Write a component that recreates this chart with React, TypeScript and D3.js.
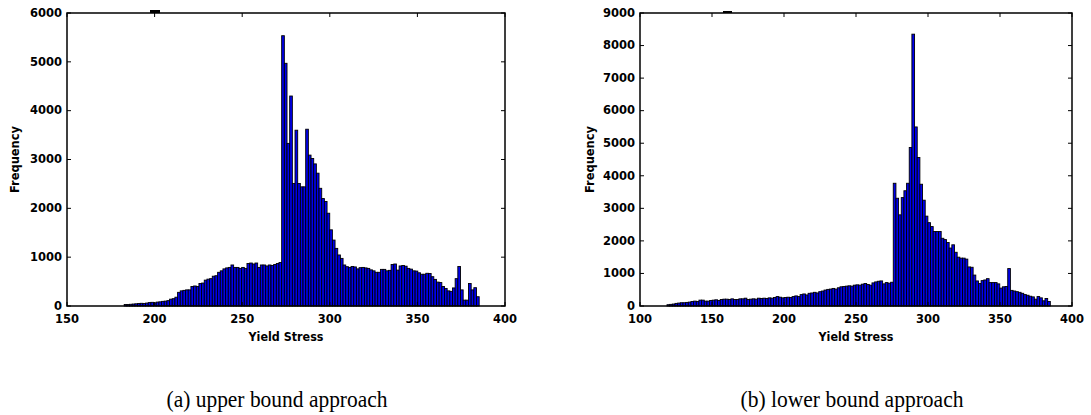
import React from 'react';
import * as d3 from 'd3';

// histogram counts per bin
const upperCounts = [
  30, 30, 35, 40, 45, 50, 55, 50, 60, 70,
  75, 65, 80, 85, 95, 100, 110, 140, 150, 180,
  280, 310, 320, 330, 330, 400, 410, 400, 460, 470,
  530, 550, 560, 610, 620, 690, 720, 760, 780, 790,
  840, 790, 790, 770, 790, 770, 870, 880, 860, 880,
  790, 840, 840, 820, 840, 830, 850, 870, 890,
  5535, 4970, 3330, 4300, 2510, 3600, 2510, 2440, 2440, 3620, 3090,
  3020, 2910, 2720, 2410, 2200, 2140, 1900, 1560, 1350, 1180,
  1045, 975, 840, 805, 790, 810, 800, 760, 785, 790,
  780, 770, 740, 720, 690, 690, 750, 750, 720, 730,
  850, 860, 735, 820, 830, 815, 770, 755, 720, 715,
  680, 650, 650, 670, 665, 600, 545, 490, 480, 400,
  360, 310, 300, 370, 560, 810, 330, 120, 120, 460,
  330, 375, 190,
];

const lowerCounts = [
  40, 50, 60, 80, 90, 100, 100, 110, 120, 140,
  150, 140, 180, 180, 150, 150, 170, 180, 190, 170,
  200, 210, 210, 200, 220, 200, 200, 220, 220, 240,
  200, 210, 220, 210, 240, 230, 240, 230, 250, 240,
  260, 290, 270, 250, 260, 270, 260, 290, 310, 290,
  350, 370, 340, 390, 400, 420, 400, 440, 460, 490,
  510, 520, 540, 520, 560, 590, 600, 610, 620, 610,
  640, 650, 640, 670, 690, 660, 640, 710, 740, 760,
  770, 680, 720, 700, 730,
  3770, 3310, 2800, 3330, 3540,
  3770, 4870, 8350, 5500, 4560, 3740, 3250, 2760, 2560, 2440,
  2290, 2290, 2290, 2080, 2040, 1950, 1780, 1880, 1650, 1500,
  1470, 1470, 1440, 1200, 1190, 950, 770, 690, 780, 800,
  840, 720, 720, 720, 680, 550, 590, 600, 1150, 480,
  460, 440, 420, 390, 350, 330, 300, 280, 210, 290,
  250, 160, 230, 140,
];

// bin edges (yield stress units)
const upperBinStart = 182.65;
const upperBinWidth = 1.5234;
const lowerBinStart = 118.75;
const lowerBinWidth = 1.8486;

const upperXTicks = [150, 200, 250, 300, 350, 400];
const upperYTicks = [0, 1000, 2000, 3000, 4000, 5000, 6000];
const lowerXTicks = [100, 150, 200, 250, 300, 350, 400];
const lowerYTicks = [0, 1000, 2000, 3000, 4000, 5000, 6000, 7000, 8000, 9000];

const xLabel = 'Yield Stress';
const yLabel = 'Frequency';
const captions = ['(a) upper bound approach', '(b) lower bound approach'];

const tickFont = { fontFamily: '"DejaVu Sans", sans-serif', fontWeight: 700, fontSize: 11.5 };

type HistProps = {
  counts: number[];
  binStart: number;
  binWidth: number;
  xTicks: number[];
  yTicks: number[];
  left: number;
  right: number;
  ylabelX: number;
};

function Hist({ counts, binStart, binWidth, xTicks, yTicks, left, right, ylabelX }: HistProps) {
  const top = 13;
  const bottom = 306;
  const x = d3.scaleLinear().domain([xTicks[0], xTicks[xTicks.length - 1]]).range([left, right]);
  const y = d3.scaleLinear().domain([0, yTicks[yTicks.length - 1]]).range([bottom, top]);
  const tl = 4;

  return (
    <g>
      {counts.map((c, i) => {
        const x0 = binStart + i * binWidth;
        return (
          <rect
            key={i}
            x={x(x0)}
            y={y(c)}
            width={x(x0 + binWidth) - x(x0)}
            height={y(0) - y(c)}
            fill="#0000ee"
            stroke="#000"
            strokeWidth={0.9}
          />
        );
      })}
      <rect x={left} y={top} width={right - left} height={bottom - top} fill="none" stroke="#000" strokeWidth={1.5} />
      {xTicks.map((t) => (
        <g key={'x' + t}>
          <line x1={x(t)} x2={x(t)} y1={bottom} y2={bottom - tl} stroke="#000" />
          <line x1={x(t)} x2={x(t)} y1={top} y2={top + tl} stroke="#000" />
          <text x={x(t)} y={bottom + 17} textAnchor="middle" style={tickFont}>{t}</text>
        </g>
      ))}
      {yTicks.map((t) => (
        <g key={'y' + t}>
          <line x1={left} x2={left + tl} y1={y(t)} y2={y(t)} stroke="#000" />
          <line x1={right} x2={right - tl} y1={y(t)} y2={y(t)} stroke="#000" />
          <text x={left - 5} y={y(t) + 3.8} textAnchor="end" style={tickFont}>{t}</text>
        </g>
      ))}
      <text x={(left + right) / 2} y={341} textAnchor="middle" textLength={75} lengthAdjust="spacingAndGlyphs"
        style={{ ...tickFont, fontSize: 12.5 }}>{xLabel}</text>
      <text
        transform={`translate(${ylabelX},${(top + bottom) / 2}) rotate(-90)`}
        textAnchor="middle"
        textLength={67}
        lengthAdjust="spacingAndGlyphs"
        style={{ ...tickFont, fontSize: 12 }}
      >
        {yLabel}
      </text>
    </g>
  );
}

export default function App() {
  const captionStyle = { fontFamily: '"Liberation Serif", serif', fontSize: 23 };
  return (
    <svg
      width={1091}
      height={415}
      style={{ position: 'absolute', left: 0, top: 0, background: '#fff' }}
    >
      <rect x={150} y={10} width={10} height={3} fill="#000" />
      <rect x={723} y={11} width={9} height={2} fill="#000" />
      <Hist
        counts={upperCounts}
        binStart={upperBinStart}
        binWidth={upperBinWidth}
        xTicks={upperXTicks}
        yTicks={upperYTicks}
        left={67}
        right={505}
        ylabelX={19}
      />
      <Hist
        counts={lowerCounts}
        binStart={lowerBinStart}
        binWidth={lowerBinWidth}
        xTicks={lowerXTicks}
        yTicks={lowerYTicks}
        left={640}
        right={1072}
        ylabelX={594}
      />
      <text x={277} y={407} textAnchor="middle" textLength={221} lengthAdjust="spacingAndGlyphs"
        style={captionStyle}>{captions[0]}</text>
      <text x={852} y={407} textAnchor="middle" textLength={223} lengthAdjust="spacingAndGlyphs"
        style={captionStyle}>{captions[1]}</text>
    </svg>
  );
}
